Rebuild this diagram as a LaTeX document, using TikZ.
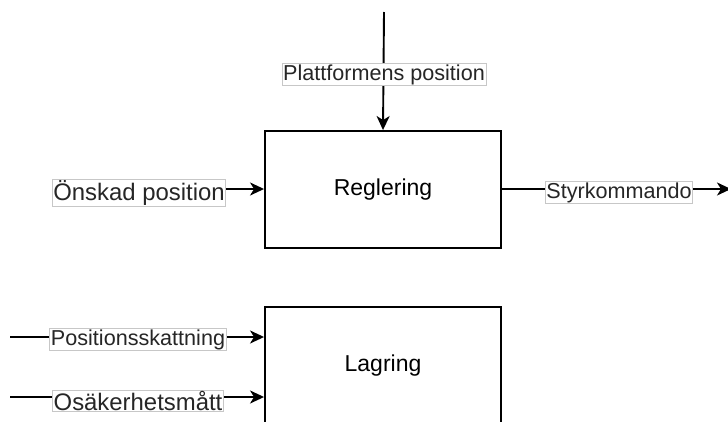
\documentclass[tikz,border=0pt]{standalone}
\usepackage{fontspec}
\setmainfont{Liberation Sans}
\usetikzlibrary{arrows.meta}
\begin{document}
\begin{tikzpicture}[x=1pt,y=-1pt,
  blockbox/.style={draw=black, line width=1.9pt, fill=white, inner sep=0pt,
    minimum width=236pt, font=\fontsize{23}{27}\selectfont},
  lbl/.style={draw=black!22, line width=0.8pt, fill=white, inner sep=1.2pt,
    text=black!85, font=\fontsize{21.6}{25}\selectfont},
  lblbig/.style={lbl, font=\fontsize{23.9}{27}\selectfont, inner sep=0.8pt},
  conn/.style={line width=1.9pt, -{Stealth[length=14pt,width=13pt,inset=4pt]}},
  plain/.style={line width=1.9pt}]
\useasboundingbox (0,0) rectangle (728,421);
\clip (0,0) rectangle (728,421);
\fill[white] (0,0) rectangle (728,421);
% blocks
\node[blockbox, minimum height=117pt] (reg) at (383,189.5) {Reglering};
\node[blockbox, minimum height=118pt] (lag) at (383,366) {Lagring};
% coordinates
\coordinate (ptop) at (384,12);
\coordinate (sout) at (731,189);
\coordinate (pin) at (10,337);
\coordinate (oin) at (10,397);
% connectors
\draw[conn] (ptop) -- (reg.north);
\draw[conn] (reg.east |- sout) -- (sout);
\draw[conn] (pin) -- (pin -| lag.west);
\draw[conn] (oin) -- (oin -| lag.west);
% labels
\node[lbl] (plat) at (384,74.5) {Plattformens position};
\node[lbl] (styr) at (619,192.5) {Styrkommando};
\node[lbl] (psk) at (138,339.5) {Positionsskattning};
\node[lblbig] (osak) at (138,401) {Osäkerhetsmått};
\node[lblbig] (onsk) at (139,193) {Önskad position};
\draw[conn] (onsk.east |- 0,189) -- (reg.west |- 0,189);
\end{tikzpicture}
\end{document}
